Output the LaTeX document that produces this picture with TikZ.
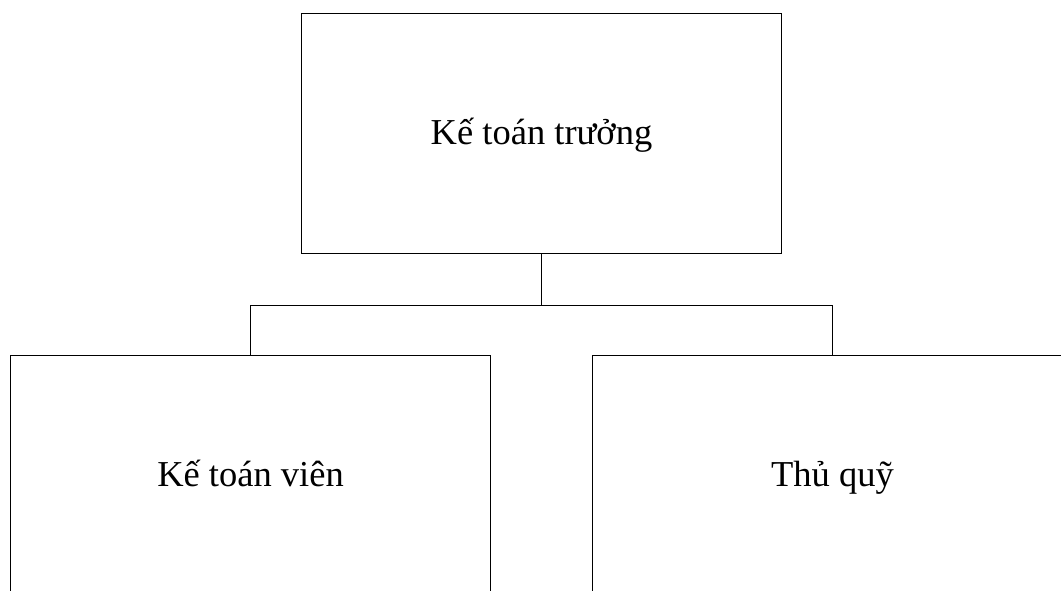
\documentclass[tikz,border=0pt]{standalone}
\usepackage{fontspec}
\setmainfont{Liberation Serif}
\usetikzlibrary{positioning}

\begin{document}
\begin{tikzpicture}[node distance=342pt,line width=1pt]
\clip (0,0) rectangle (1061pt,-590pt);
\node[rectangle,draw,minimum width=480pt,minimum height=240pt,text height=28pt,text depth=7pt,align=center,font=\fontsize{36.5}{42}\selectfont] (boss) at (541.5pt,-133.5pt) {Kế toán trưởng};
\node[rectangle,draw,below of = boss,xshift=-291pt,minimum width=480pt,minimum height=240pt,text height=28pt,text depth=7pt,align=center,font=\fontsize{36.5}{42}\selectfont] (staff) {Kế toán viên};
\node[rectangle,draw,below of = boss,xshift=291pt,minimum width=480pt,minimum height=240pt,text height=28pt,text depth=7pt,align=center,font=\fontsize{36.5}{42}\selectfont] (cash) {Thủ quỹ};
\coordinate[below=51pt of boss.south] (split);

\draw (boss.south) -- (split) -| (staff.north);
\draw (split) -| (cash.north);

\end{tikzpicture}
\end{document}
